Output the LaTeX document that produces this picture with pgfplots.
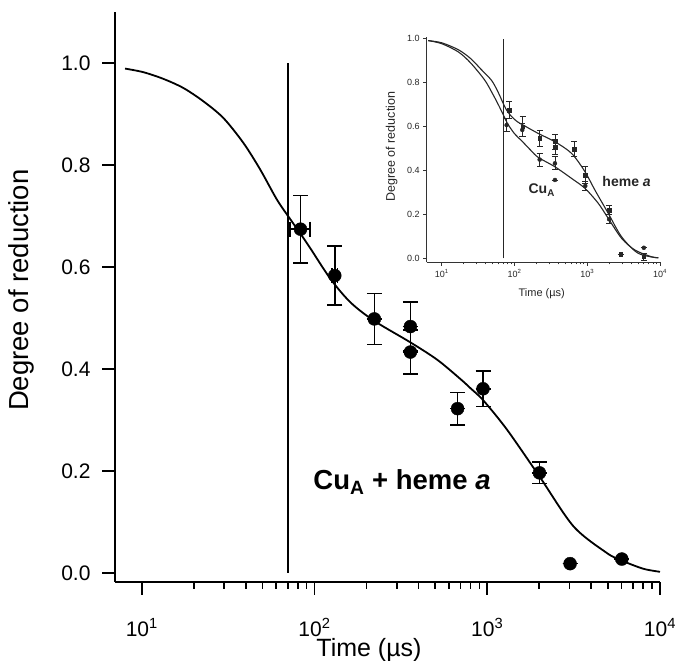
\documentclass[border=0pt]{standalone}
\usepackage{fontspec}
\setmainfont{Liberation Sans}
\usepackage{pgfplots}
\pgfplotsset{compat=1.18}
\begin{document}
\begin{tikzpicture}[x=1pt,y=1pt]
\begin{axis}[name=main, at={(0pt,0pt)}, anchor=south west,
  scale only axis, width=545pt, height=570pt,
  xmode=log, xmin=7, xmax=10000, ymin=-0.018, ymax=1.10,
  axis x line*=bottom, axis y line*=left,
  axis line style={line width=1.6pt, -},
  tick align=outside,
  major tick length=13pt, minor tick length=7pt,
  every tick/.style={black, line width=1.6pt},
  xtick={10,100,1000,10000},
  xticklabels={10\textsuperscript{1},10\textsuperscript{2},10\textsuperscript{3},10\textsuperscript{4}},
  ytick={0,0.2,0.4,0.6,0.8,1.0},
  yticklabels={0.0,0.2,0.4,0.6,0.8,1.0},
  tick label style={font=\fontsize{21}{25}\selectfont},
  yticklabel style={xshift=-8pt},
  xticklabel style={yshift=-20pt},
  xlabel={Time (µs)}, ylabel={Degree of reduction},
  every axis y label/.style={at={(axis description cs:-0.171,0.512)}, rotate=90, anchor=center, font=\fontsize{27.5}{32}\selectfont},
  every axis x label/.style={at={(axis description cs:0.466,-0.119)}, anchor=center, font=\fontsize{25}{30}\selectfont},
  clip=false,
]
\addplot[black, line width=1.8pt, smooth] coordinates {
 (8,0.989) (10.2,0.982) (13.3,0.969) (17.4,0.951) (22.7,0.925) (29.7,0.892)
 (38.8,0.843) (48.5,0.791) (60.6,0.732) (72.6,0.693) (83,0.665) (94.8,0.636)
 (124,0.576) (162,0.530) (222,0.494) (359,0.452) (513,0.418) (700,0.380)
 (800,0.362) (950,0.338) (1300,0.281) (2006,0.189) (3160,0.091) (4920,0.039)
 (6010,0.024) (8000,0.008) (10000,0.002)};
\addplot[black, line width=1.6pt] coordinates {(70,0) (70,1.0)};
\addplot[only marks, mark=*, mark size=6.5pt, black,
  error bars/.cd, y dir=both, y explicit, x dir=both, x explicit,
  error mark options={rotate=90, black, mark size=7.5pt, line width=1.5pt},
  error bar style={line width=1.5pt}]
 coordinates {
 (83,0.674) +- (11,0.066)
 (131,0.583) +- (5,0.058)
 (222,0.498) +- (0,0.050)
 (359,0.483) +- (0,0.048)
 (359,0.433) +- (0,0.043)
 (673,0.322) +- (0,0.032)
 (945,0.361) +- (0,0.035)
 (2006,0.196) +- (0,0.021)
 (3017,0.018) +- (0,0)
 (6010,0.027) +- (0,0)};
\node[anchor=west, font=\fontsize{27.5}{32}\selectfont\bfseries] at (axis cs:94,0.178) {Cu\textsubscript{A} + heme \textit{a}};
\end{axis}

\begin{axis}[name=inset, at={(311.7pt,319.7pt)}, anchor=south west,
  scale only axis, width=233.3pt, height=225pt,
  xmode=log, xmin=6.22, xmax=10000, ymin=-0.018, ymax=1.007,
  axis x line*=bottom, axis y line*=left,
  axis line style={line width=1pt, -, black!80},
  tick align=outside,
  major tick length=3.5pt, minor tick length=2pt,
  every tick/.style={black!80, line width=0.9pt},
  xtick={10,100,1000,10000},
  xticklabels={10\textsuperscript{1},10\textsuperscript{2},10\textsuperscript{3},10\textsuperscript{4}},
  ytick={0,0.2,0.4,0.6,0.8,1.0},
  yticklabels={0.0,0.2,0.4,0.6,0.8,1.0},
  tick label style={font=\fontsize{9}{10}\selectfont, black!85},
  xlabel={Time (µs)}, ylabel={Degree of reduction},
  every axis y label/.style={at={(axis description cs:-0.15,0.514)}, rotate=90, anchor=center, font=\fontsize{12.5}{14}\selectfont, black!85},
  every axis x label/.style={at={(axis description cs:0.493,-0.14)}, anchor=center, font=\fontsize{11}{13}\selectfont, black!85},
  clip=false,
]
\addplot[black!85, line width=1.1pt, smooth] coordinates {
 (6.5,0.992) (10,0.982) (17,0.95) (25,0.91) (35,0.86) (48.6,0.81) (60,0.755)
 (75,0.685) (90,0.648) (110,0.622) (132,0.607) (212,0.569) (360,0.531)
 (610,0.478) (930,0.395) (1275,0.311) (1945,0.205) (2970,0.098) (5020,0.023)
 (9500,0.002)};
\addplot[black!85, line width=1.1pt, smooth] coordinates {
 (6.5,0.992) (10,0.978) (17,0.94) (25,0.89) (39,0.812) (50,0.75) (60,0.70)
 (70,0.655) (80,0.615) (100,0.568) (126,0.535) (170,0.49) (212,0.46)
 (360,0.417) (610,0.364) (930,0.319) (1415,0.251) (1945,0.182) (2970,0.091)
 (4520,0.038) (7670,0.007) (9500,0.003)};
\addplot[black!85, line width=1pt] coordinates {(70,0) (70,1.0)};
% heme a
\addplot[only marks, mark=square*, mark size=1.8pt, black!85,
  error bars/.cd, y dir=both, y explicit,
  error mark options={rotate=90, black!85, mark size=3pt, line width=0.8pt},
  error bar style={line width=0.8pt}]
 coordinates {
 (85,0.676) +- (0,0.038)
 (129,0.600) +- (0,0.045)
 (222,0.547) +- (0,0.035)
 (360,0.531) +- (0,0.035)
 (360,0.508) +- (0,0.035)
 (664,0.497) +- (0,0.034)
 (940,0.380) +- (0,0.038)
 (2000,0.220) +- (0,0.020)
 (2900,0.018) +- (0,0)
 (6000,0.007) +- (0,0.015)};
% Cu_A
\addplot[only marks, mark=*, mark size=2pt, black!85,
  error bars/.cd, y dir=both, y explicit,
  error mark options={rotate=90, black!85, mark size=3pt, line width=0.8pt},
  error bar style={line width=0.8pt}]
 coordinates {
 (78,0.607) +- (0,0.030)
 (128,0.585) +- (0,0.030)
 (222,0.450) +- (0,0.030)
 (360,0.433) +- (0,0.030)
 (360,0.357) +- (0,0)
 (940,0.330) +- (0,0.020)
 (2000,0.178) +- (0,0.020)
 (6000,0.048) +- (0,0)};
\node[font=\fontsize{14}{16}\selectfont\bfseries, black!85] at (axis cs:237,0.311) {Cu\textsubscript{A}};
\node[font=\fontsize{14}{16}\selectfont\bfseries, black!85] at (axis cs:3475,0.349) {heme \textit{a}};
\end{axis}
\pgfresetboundingbox
\path[use as bounding box] (-115pt,-79pt) rectangle (566pt,582pt);
\end{tikzpicture}
\end{document}
